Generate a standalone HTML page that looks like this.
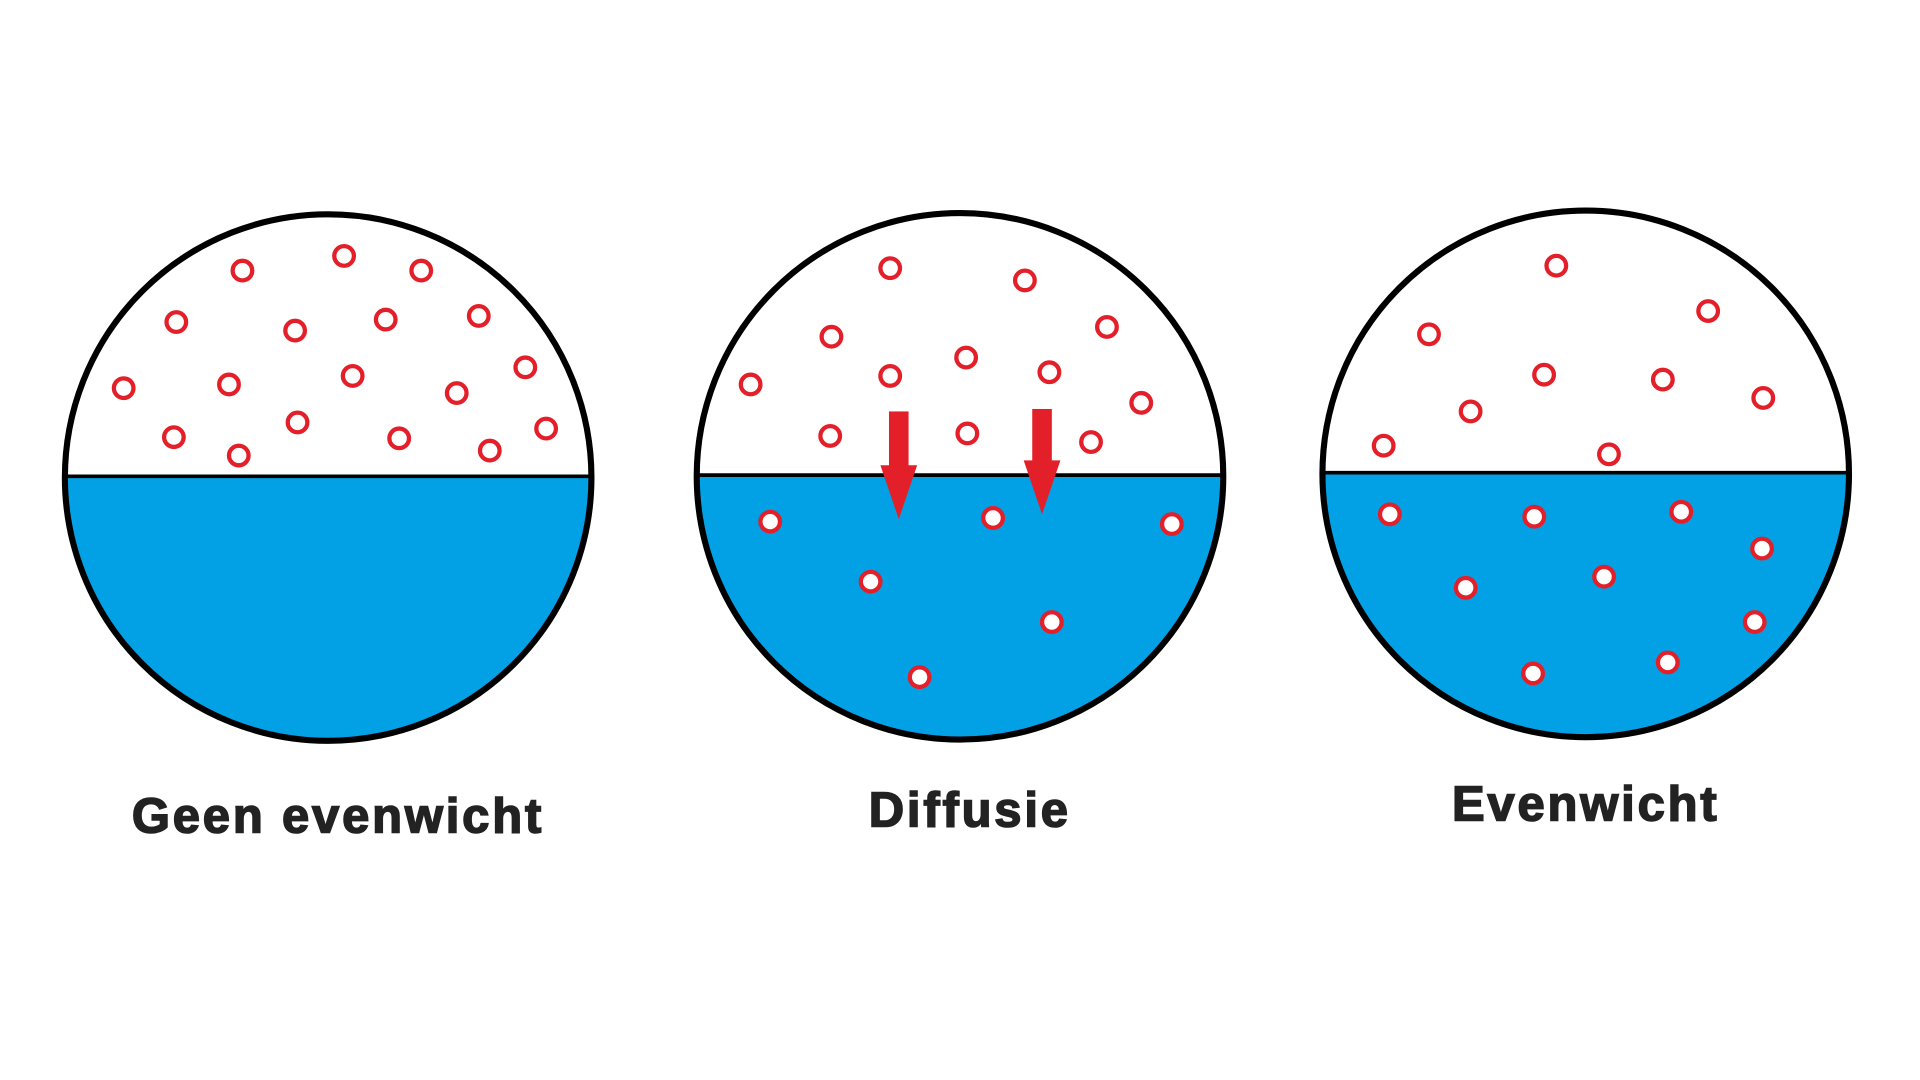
<!DOCTYPE html>
<html><head><meta charset="utf-8"><style>
html,body{margin:0;padding:0;background:#fff;}
svg{display:block;}
text{font-family:"Liberation Sans",Arial,sans-serif;font-weight:bold;fill:#222;stroke:#222;stroke-width:1.3;}
</style></head><body>
<svg width="1920" height="1080" viewBox="0 0 1568 882" preserveAspectRatio="none" xmlns="http://www.w3.org/2000/svg">
<defs>
<clipPath id="c1"><rect x="40" y="389" width="460" height="240"/></clipPath>
<clipPath id="c2"><rect x="555" y="388" width="460" height="240"/></clipPath>
<clipPath id="c3"><rect x="1065" y="386" width="460" height="240"/></clipPath>
</defs>
<rect width="1568" height="882" fill="#fff"/>
<circle cx="268" cy="390" r="215" fill="#fff"/>
<circle cx="268" cy="390" r="215" fill="#02a0e4" clip-path="url(#c1)"/>
<line x1="53" y1="389" x2="483" y2="389" stroke="#000" stroke-width="3"/>
<circle cx="268" cy="390" r="215" fill="none" stroke="#000" stroke-width="5"/>
<circle cx="784" cy="389" r="215" fill="#fff"/>
<circle cx="784" cy="389" r="215" fill="#02a0e4" clip-path="url(#c2)"/>
<line x1="569" y1="388" x2="999" y2="388" stroke="#000" stroke-width="3"/>
<circle cx="784" cy="389" r="215" fill="none" stroke="#000" stroke-width="5"/>
<circle cx="1295" cy="387" r="215" fill="#fff"/>
<circle cx="1295" cy="387" r="215" fill="#02a0e4" clip-path="url(#c3)"/>
<line x1="1080" y1="386" x2="1510" y2="386" stroke="#000" stroke-width="3"/>
<circle cx="1295" cy="387" r="215" fill="none" stroke="#000" stroke-width="5"/>
<g fill="#fff" stroke="#e3202a" stroke-width="3.5">
<circle cx="198" cy="221" r="8"/><circle cx="281" cy="209" r="8"/><circle cx="344" cy="221" r="8"/>
<circle cx="144" cy="263" r="8"/><circle cx="241" cy="270" r="8"/><circle cx="315" cy="261" r="8"/><circle cx="391" cy="258" r="8"/>
<circle cx="101" cy="317" r="8"/><circle cx="187" cy="314" r="8"/><circle cx="288" cy="307" r="8"/><circle cx="373" cy="321" r="8"/><circle cx="429" cy="300" r="8"/>
<circle cx="142" cy="357" r="8"/><circle cx="195" cy="372" r="8"/><circle cx="243" cy="345" r="8"/><circle cx="326" cy="358" r="8"/><circle cx="400" cy="368" r="8"/><circle cx="446" cy="350" r="8"/>
<circle cx="727" cy="219" r="8"/><circle cx="837" cy="229" r="8"/><circle cx="679" cy="275" r="8"/><circle cx="904" cy="267" r="8"/>
<circle cx="613" cy="314" r="8"/><circle cx="727" cy="307" r="8"/><circle cx="789" cy="292" r="8"/><circle cx="857" cy="304" r="8"/><circle cx="932" cy="329" r="8"/>
<circle cx="678" cy="356" r="8"/><circle cx="790" cy="354" r="8"/><circle cx="891" cy="361" r="8"/>
<circle cx="629" cy="426" r="8"/><circle cx="811" cy="423" r="8"/><circle cx="957" cy="428" r="8"/><circle cx="711" cy="475" r="8"/><circle cx="859" cy="508" r="8"/><circle cx="751" cy="553" r="8"/>
<circle cx="1271" cy="217" r="8"/><circle cx="1167" cy="273" r="8"/><circle cx="1395" cy="254" r="8"/>
<circle cx="1201" cy="336" r="8"/><circle cx="1261" cy="306" r="8"/><circle cx="1358" cy="310" r="8"/><circle cx="1440" cy="325" r="8"/>
<circle cx="1130" cy="364" r="8"/><circle cx="1314" cy="371" r="8"/>
<circle cx="1135" cy="420" r="8"/><circle cx="1253" cy="422" r="8"/><circle cx="1373" cy="418" r="8"/><circle cx="1439" cy="448" r="8"/>
<circle cx="1197" cy="480" r="8"/><circle cx="1310" cy="471" r="8"/><circle cx="1433" cy="508" r="8"/>
<circle cx="1252" cy="550" r="8"/><circle cx="1362" cy="541" r="8"/>
</g>
<g fill="#e3202a">
<rect x="726" y="336" width="16" height="46"/><polygon points="719,380 749,380 734,424"/>
<rect x="843" y="334" width="16" height="44"/><polygon points="836,376 866,376 851,420"/>
</g>
<text x="276" y="680" font-size="40" text-anchor="middle" letter-spacing="2.3">Geen evenwicht</text>
<text x="792" y="675" font-size="40" text-anchor="middle" letter-spacing="2.3">Diffusie</text>
<text x="1295" y="670" font-size="40" text-anchor="middle" letter-spacing="2.3">Evenwicht</text>
</svg>
</body></html>
